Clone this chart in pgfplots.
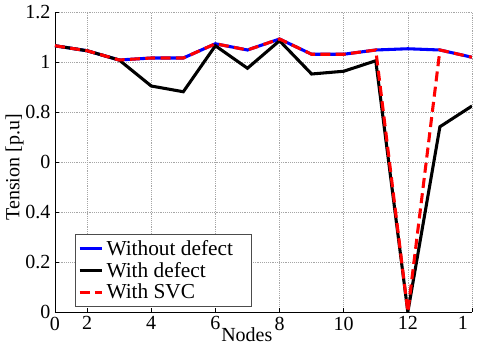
\documentclass[border=0pt]{standalone}
\usepackage{fontspec}
\setmainfont{Liberation Serif}
\usepackage{pgfplots}
\pgfplotsset{compat=1.18}

\begin{document}
\begin{tikzpicture}
\begin{axis}[
scale only axis,
width=312.75pt, height=225pt,
font=\fontsize{15}{18}\selectfont,
/pgf/number format/assume math mode=true,
xmin=1, xmax=14, ymin=0, ymax=1.2,
axis x line*=bottom, axis y line*=left,
axis line style={black, line width=0.6pt},
tick align=inside,
major tick length=3pt,
tick style={black, line width=0.5pt},
xtick={1,2,4,6,8,10,12,14},
xticklabels={0,2,4,6,8,10,12,\makebox[0pt][r]{1\hspace{3pt}}},
ytick={0,0.2,0.4,0.6,0.8,1,1.2},
yticklabels={0,0.2,0.4,0,0.8,1,1.2},
grid=major,
major grid style={densely dotted, gray!70, line width=0.5pt},
xlabel={Nodes},
xlabel style={at={(axis description cs:0.46,0)}, anchor=north, yshift=-8.5pt},
ylabel={Tension [p.u]},
ylabel style={at={(axis description cs:0,0.5)}, anchor=south, yshift=20pt, xshift=-4pt},
legend style={at={(axis description cs:0.048,0.017)}, anchor=south west,
  draw=black!70, line width=0.5pt, fill=white, inner xsep=2pt, inner ysep=2.5pt,
  row sep=-0.5pt, font=\fontsize{16}{18}\selectfont},
legend cell align=left,
]
\addplot [blue, line width=2.3pt] coordinates {
(1,1.065) (2,1.045) (3,1.008) (4,1.016) (5,1.016) (6,1.073) (7,1.048)
(8,1.092) (9,1.031) (10,1.031) (11,1.048) (12,1.053) (13,1.048) (14,1.019)
};
\addlegendentry{Without defect\rule{10pt}{0pt}}
\addplot [black, line width=2.3pt] coordinates {
(1,1.065) (2,1.045) (3,1.008) (4,0.904) (5,0.881) (6,1.065) (7,0.975)
(8,1.085) (9,0.952) (10,0.963) (11,1.005) (12,0) (13,0.741) (14,0.824)
};
\addlegendentry{With defect}
\addplot [red, line width=2.3pt, dash pattern=on 7.5pt off 4pt] coordinates {
(1,1.065) (2,1.045) (3,1.008) (4,1.016) (5,1.016) (6,1.073) (7,1.048)
(8,1.092) (9,1.031) (10,1.031) (11,1.048) (12,0) (13,1.048) (14,1.019)
};
\addlegendentry{With SVC}
\end{axis}
\pgfresetboundingbox
\useasboundingbox (-41.25pt,-28.5pt) rectangle (318.75pt,234pt);
\end{tikzpicture}
\end{document}
